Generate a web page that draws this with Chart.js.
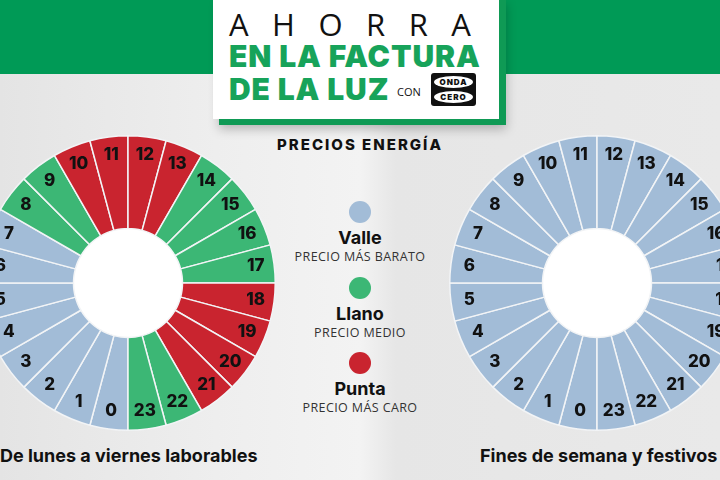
<!DOCTYPE html>
<html>
<head>
<meta charset="utf-8">
<script src="https://cdn.jsdelivr.net/npm/chart.js@4/dist/chart.umd.min.js"></script>
<style>
  html, body { margin: 0; padding: 0; }
  body {
    width: 720px; height: 480px; overflow: hidden; position: relative;
    background: linear-gradient(90deg, #e4e4e4 0%, #eeeeee 30%, #f3f3f3 50%, #e6e6e6 55%, #e9e9e9 100%);
    font-family: "Inter", "Open Sans", sans-serif; color: #111;
  }
  .band { position: absolute; left: 0; top: 0; width: 720px; height: 74px; background: #009a56; }
  .box-shadow { position: absolute; left: 219px; top: 0; width: 287px; height: 125px; background: #0f9a55; box-shadow: 0 4px 10px rgba(0,0,0,0.25); }
  .box { position: absolute; left: 213px; top: 0; width: 286px; height: 119px; background: #fff; }
  .ahorra { position: absolute; left: 229px; top: 6px; font-family: "Open Sans", sans-serif; font-size: 31px; font-weight: 400; letter-spacing: 23.5px; color: #111; line-height: 36px; }
  .big { position: absolute; left: 229px; font-family: "Inter", sans-serif; font-weight: 900; font-size: 30px; color: #17a35a; line-height: 32px; letter-spacing: 0.9px; }
  .con { position: absolute; left: 397px; top: 84px; font-size: 11px; font-family: "Open Sans", sans-serif; color: #111; }
  .logo { position: absolute; left: 431px; top: 73px; width: 45px; height: 33px; background: #111; border-radius: 3px; }
  .logo span { position: absolute; left: 3px; width: 39px; height: 12px; background: #fff; border-radius: 50%; font-size: 8px; font-weight: 900; text-align: center; line-height: 12px; letter-spacing: 1px; color: #111; }
  .hdr { position: absolute; left: 240px; width: 240px; top: 135px; text-align: center; font-weight: 800; font-size: 15px; letter-spacing: 2px; }
  .leg { position: absolute; left: 270px; width: 180px; text-align: center; }
  .dot { width: 22px; height: 22px; border-radius: 50%; margin: 0 auto; }
  .leg b { display: block; font-size: 18px; font-weight: 700; margin-top: 4px; line-height: 22px; }
  .leg small { display: block; font-family: "Open Sans", sans-serif; font-size: 12.5px; color: #333; letter-spacing: 0.4px; line-height: 16px; }
  .cap { position: absolute; top: 445px; font-weight: 700; font-size: 18px; }
  canvas { position: absolute; }
</style>
</head>
<body>
<div class="band"></div>
<div class="box-shadow"></div>
<div class="box"></div>
<div class="ahorra">AHORRA</div>
<div class="big" style="top:40px">EN LA FACTURA</div>
<div class="big" style="top:73px">DE LA LUZ</div>
<div class="con">CON</div>
<div class="logo"><span style="top:3px">ONDA</span><span style="top:18px">CERO</span></div>

<div class="hdr">PRECIOS ENERGÍA</div>
<div id="legend"></div>

<canvas id="weekday" width="296" height="296" style="left:-20px; top:135px"></canvas>
<canvas id="weekend" width="296" height="296" style="left:449px; top:135px"></canvas>

<div class="cap" style="left:0px">De lunes a viernes laborables</div>
<div class="cap" style="left:480px">Fines de semana y festivos</div>

<script>
// horas del día (una porción por hora)
var hours = ['0','1','2','3','4','5','6','7','8','9','10','11','12','13','14','15','16','17','18','19','20','21','22','23'];
var hourShare = [1,1,1,1,1,1,1,1,1,1,1,1,1,1,1,1,1,1,1,1,1,1,1,1];

// tramo de cada hora
var weekdayTariff = ['valle','valle','valle','valle','valle','valle','valle','valle',
  'llano','llano','punta','punta','punta','punta','llano','llano','llano','llano',
  'punta','punta','punta','punta','llano','llano'];
var weekendTariff = ['valle','valle','valle','valle','valle','valle','valle','valle',
  'valle','valle','valle','valle','valle','valle','valle','valle','valle','valle',
  'valle','valle','valle','valle','valle','valle'];

var tariffNames = ['Valle', 'Llano', 'Punta'];
var tariffNotes = ['PRECIO MÁS BARATO', 'PRECIO MEDIO', 'PRECIO MÁS CARO'];
var tariffColors = { valle: '#a2bcd7', llano: '#3cb775', punta: '#c9242f' };

// leyenda central
var legendTops = [201, 277, 352];
var legendEl = document.getElementById('legend');
tariffNames.forEach(function(name, i) {
  var key = name.toLowerCase();
  var div = document.createElement('div');
  div.className = 'leg';
  div.style.top = legendTops[i] + 'px';
  div.innerHTML = '<div class="dot" style="background:' + tariffColors[key] + '"></div><b>' + name + '</b><small>' + tariffNotes[i] + '</small>';
  legendEl.appendChild(div);
});

// agujero blanco y números de las horas
var hourLabels = {
  id: 'hourLabels',
  beforeDatasetsDraw: function(chart) {
    var arc = chart.getDatasetMeta(0).data[0];
    var ctx = chart.ctx;
    ctx.save();
    ctx.fillStyle = '#ffffff';
    ctx.beginPath();
    ctx.arc(arc.x, arc.y, arc.innerRadius, 0, Math.PI * 2);
    ctx.fill();
    ctx.restore();
  },
  afterDatasetsDraw: function(chart) {
    var ctx = chart.ctx;
    ctx.save();
    ctx.font = '800 17px Inter, sans-serif';
    ctx.fillStyle = '#111';
    ctx.textAlign = 'center';
    ctx.textBaseline = 'middle';
    chart.getDatasetMeta(0).data.forEach(function(arc, i) {
      var a = (arc.startAngle + arc.endAngle) / 2;
      var r = arc.outerRadius * 0.875;
      ctx.fillText(chart.data.labels[i], arc.x + Math.cos(a) * r, arc.y + Math.sin(a) * r);
    });
    ctx.restore();
  }
};

function makeDonut(id, tariff) {
  return new Chart(document.getElementById(id), {
    type: 'doughnut',
    data: {
      labels: hours,
      datasets: [{
        data: hourShare,
        backgroundColor: tariff.map(function(t) { return tariffColors[t]; }),
        borderColor: '#f2f4f6',
        borderWidth: 1.5
      }]
    },
    options: {
      responsive: false,
      animation: false,
      rotation: 180,
      cutout: '37%',
      layout: { padding: 0 },
      plugins: { legend: { display: false }, tooltip: { enabled: false } }
    },
    plugins: [hourLabels]
  });
}

makeDonut('weekday', weekdayTariff);
makeDonut('weekend', weekendTariff);
</script>
</body>
</html>
